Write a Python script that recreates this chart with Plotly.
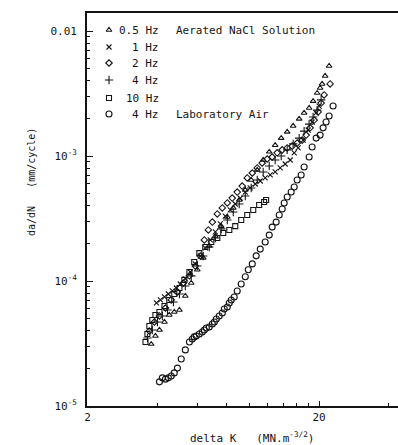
import plotly.graph_objects as go
import math

# ---------------- data (ΔK in MN.m^-3/2, da/dN in mm/cycle) ----------------
hz05_dk = [3.77, 3.93, 4.09, 4.30, 4.51, 4.74, 4.99, 5.29, 5.61, 5.96, 6.32, 6.71, 7.13, 7.56, 8.03,
           8.52, 9.04, 9.60, 10.18, 10.81, 11.47, 12.18, 12.92, 13.72, 14.56, 15.45, 16.40, 17.23,
           18.11, 18.84, 19.61, 20.20, 20.60, 21.23, 22.09]
hz05_da = [3.13e-5, 3.63e-5, 4.06e-5, 4.70e-5, 5.35e-5, 5.65e-5, 5.86e-5, 7.59e-5, 9.64e-5, 1.23e-4,
           1.53e-4, 1.91e-4, 2.29e-4, 2.75e-4, 3.25e-4, 3.84e-4, 4.45e-4, 5.35e-4, 6.43e-4, 7.73e-4,
           9.29e-4, 1.08e-3, 1.22e-3, 1.39e-3, 1.56e-3, 1.74e-3, 1.98e-3, 2.21e-3, 2.42e-3, 2.75e-3,
           3.19e-3, 3.50e-3, 3.77e-3, 4.37e-3, 5.25e-3]

hz1_dk = [3.97, 4.13, 4.30, 4.47, 4.65, 4.84, 5.03, 5.29, 5.56, 5.84, 6.14, 6.45, 6.78, 7.13, 7.49,
          7.87, 8.27, 8.69, 9.13, 9.60, 10.08, 10.60, 11.14, 11.70, 12.30, 12.92, 13.58, 14.27,
          15.00, 15.61, 16.24, 17.06, 17.93, 18.66, 19.42, 20.00]
hz1_da = [6.67e-5, 7.05e-5, 7.45e-5, 7.87e-5, 8.32e-5, 8.79e-5, 9.46e-5, 1.04e-4, 1.18e-4, 1.37e-4,
          1.585e-4, 1.84e-4, 2.13e-4, 2.47e-4, 2.86e-4, 3.31e-4, 3.70e-4, 4.13e-4, 4.61e-4, 5.15e-4,
          5.55e-4, 5.97e-4, 6.31e-4, 6.67e-4, 7.05e-4, 7.45e-4, 8.02e-4, 8.63e-4, 9.29e-4, 1.06e-3,
          1.16e-3, 1.34e-3, 1.61e-3, 1.87e-3, 2.21e-3, 2.51e-3]

hz2_dk = [3.70, 3.89, 4.09, 4.34, 4.60, 4.89, 5.19, 5.51, 5.84, 6.14, 6.39, 6.65, 6.92, 7.27, 7.64,
          8.03, 8.43, 8.86, 9.31, 9.79, 10.29, 10.81, 11.35, 11.93, 12.54, 13.18, 13.86, 14.56,
          15.30, 16.08, 16.90, 17.58, 18.29, 19.03, 19.80, 20.40, 21.02, 22.31]
hz2_da = [3.98e-5, 4.70e-5, 5.25e-5, 6.08e-5, 7.05e-5, 8.17e-5, 9.64e-5, 1.10e-4, 1.32e-4, 1.585e-4,
          2.13e-4, 2.56e-4, 2.96e-4, 3.44e-4, 3.84e-4, 4.21e-4, 4.61e-4, 5.15e-4, 5.75e-4, 6.67e-4,
          7.31e-4, 8.02e-4, 8.79e-4, 9.46e-4, 9.82e-4, 1.06e-3, 1.12e-3, 1.16e-3, 1.20e-3, 1.27e-3,
          1.34e-3, 1.47e-3, 1.68e-3, 1.94e-3, 2.25e-3, 2.65e-3, 3.08e-3, 3.77e-3]

hz4_dk = [3.63, 3.81, 4.01, 4.21, 4.43, 4.70, 4.99, 5.29, 5.61, 5.96, 6.32, 6.71, 7.13, 7.56, 8.03,
          8.52, 9.04, 9.60, 10.18, 10.81, 11.47, 12.18, 12.92, 13.72, 14.56, 15.45, 16.40, 17.23,
          18.11, 18.84, 19.61, 20.40]
hz4_da = [3.50e-5, 4.06e-5, 4.70e-5, 5.25e-5, 5.86e-5, 6.79e-5, 7.87e-5, 9.12e-5, 1.10e-4, 1.32e-4,
          1.585e-4, 1.87e-4, 2.21e-4, 2.61e-4, 3.08e-4, 3.56e-4, 4.13e-4, 4.79e-4, 5.55e-4, 6.43e-4,
          7.45e-4, 8.32e-4, 9.29e-4, 1.0e-3, 1.12e-3, 1.25e-3, 1.39e-3, 1.58e-3, 1.80e-3, 2.05e-3,
          2.33e-3, 2.81e-3]

hz10_dk = [3.56, 3.63, 3.70, 3.81, 3.93, 4.09, 4.30, 4.51, 4.74, 4.99, 5.24, 5.51, 5.78, 6.08, 6.45,
           6.85, 7.27, 7.71, 8.19, 8.69, 9.22, 9.79, 10.39, 11.02, 11.58, 11.81]
hz10_da = [3.25e-5, 3.77e-5, 4.37e-5, 4.88e-5, 5.35e-5, 5.65e-5, 6.31e-5, 7.05e-5, 7.87e-5, 8.79e-5,
           1.02e-4, 1.18e-4, 1.42e-4, 1.67e-4, 1.87e-4, 2.05e-4, 2.21e-4, 2.42e-4, 2.56e-4, 2.75e-4,
           3.08e-4, 3.37e-4, 3.70e-4, 4.06e-4, 4.29e-4, 4.45e-4]

air_dk = [4.09, 4.21, 4.34, 4.47, 4.60, 4.74, 4.89, 5.08, 5.29, 5.51, 5.67, 5.78, 5.90, 6.08, 6.26,
          6.39, 6.52, 6.71, 6.92, 7.06, 7.20, 7.41, 7.64, 7.79, 8.03, 8.19, 8.35, 8.60, 8.86, 9.22,
          9.60, 9.89, 10.29, 10.70, 11.14, 11.70, 12.18, 12.54, 13.05, 13.45, 13.86, 14.13, 14.56,
          15.15, 15.61, 16.08, 16.73, 17.23, 18.11, 18.66, 19.42, 20.20, 20.81, 21.44, 22.09, 22.98]
air_da = [1.56e-5, 1.68e-5, 1.64e-5, 1.68e-5, 1.74e-5, 1.84e-5, 2.01e-5, 2.38e-5, 2.81e-5, 3.25e-5,
          3.44e-5, 3.57e-5, 3.63e-5, 3.77e-5, 3.91e-5, 4.06e-5, 4.21e-5, 4.29e-5, 4.53e-5, 4.70e-5,
          4.97e-5, 5.25e-5, 5.55e-5, 5.97e-5, 6.19e-5, 6.67e-5, 7.05e-5, 7.45e-5, 8.32e-5, 9.46e-5,
          1.08e-4, 1.23e-4, 1.37e-4, 1.59e-4, 1.80e-4, 2.05e-4, 2.33e-4, 2.70e-4, 2.96e-4, 3.37e-4,
          3.77e-4, 4.21e-4, 4.70e-4, 5.15e-4, 5.65e-4, 6.43e-4, 7.05e-4, 8.17e-4, 9.82e-4, 1.18e-3,
          1.39e-3, 1.47e-3, 1.68e-3, 1.87e-3, 2.09e-3, 2.51e-3]

legend_freq = ["0.5 Hz", "1 Hz", "2 Hz", "4 Hz", "10 Hz", "4 Hz"]
legend_env = ["Aerated NaCl Solution", "", "", "", "", "Laboratory Air"]

x_tick_vals = [2, 20]
x_tick_text = ["2", "20"]
x_minor_vals = [4, 6, 8, 10, 12, 14, 16, 18, 40]
y_tick_vals = [1e-5, 1e-4, 1e-3, 1e-2]
y_tick_text = ["10<sup>-5</sup>", "10<sup>-4</sup>", "10<sup>-3</sup>", "0.01"]
y_minor_vals = [m * 10.0 ** e for e in (-5, -4, -3) for m in range(2, 10)]

# ---------------- layout geometry ----------------
W, H = 398, 445
L, R, T, B = 87, 398, 13, 406
FONT = "DejaVu Sans Mono"
INK = "#141414"


def pxx(x):
    return (x - L) / (R - L)


def pxy(y):
    return (B - y) / (B - T)


series = [
    (hz05_dk, hz05_da, "triangle-up-open", 5),
    (hz1_dk, hz1_da, "x-thin-open", 5),
    (hz2_dk, hz2_da, "diamond-open", 5),
    (hz4_dk, hz4_da, "cross-thin-open", 6),
    (hz10_dk, hz10_da, "square-open", 5),
    (air_dk, air_da, "circle-open", 6),
]

fig = go.Figure()
for dk, da, sym, sz in series:
    fig.add_trace(go.Scatter(
        x=dk, y=da, mode="markers", showlegend=False,
        marker=dict(symbol=sym, size=sz, color=INK, line=dict(color=INK, width=1.1)),
    ))

# legend symbols (overlay axes in plot fractions)
row_y = [30, 47, 63, 80, 98, 114]
for i, (dk, da, sym, sz) in enumerate(series):
    fig.add_trace(go.Scatter(
        x=[pxx(109)], y=[pxy(row_y[i])], xaxis="x2", yaxis="y2", mode="markers",
        showlegend=False, hoverinfo="skip",
        marker=dict(symbol=sym, size=sz, color=INK, line=dict(color=INK, width=1.1)),
    ))
    fig.add_annotation(x=pxx(161), y=pxy(row_y[i]), xref="paper", yref="paper",
                       text=legend_freq[i].replace(" ", "\u00a0"), showarrow=False,
                       xanchor="right", yanchor="middle",
                       font=dict(family=FONT, size=11, color=INK))
    if legend_env[i]:
        fig.add_annotation(x=pxx(174), y=pxy(row_y[i]), xref="paper", yref="paper",
                           text=legend_env[i], showarrow=False,
                           xanchor="left", yanchor="middle",
                           font=dict(family=FONT, size=11, color=INK))

# axis titles
fig.add_annotation(x=pxx(252), y=pxy(437), xref="paper", yref="paper",
                   text="delta\u00a0K\u00a0\u00a0\u00a0(MN.m<sup>-3/2</sup>)", showarrow=False,
                   xanchor="center", yanchor="middle",
                   font=dict(family=FONT, size=11, color=INK))
fig.add_annotation(x=pxx(31), y=pxy(182), xref="paper", yref="paper",
                   text="da/dN\u00a0\u00a0\u00a0(mm/cycle)", showarrow=False, textangle=-90,
                   xanchor="center", yanchor="middle",
                   font=dict(family=FONT, size=10, color=INK))

fig.update_layout(
    width=W, height=H,
    margin=dict(l=L, r=W - R, t=T, b=H - B, pad=0),
    paper_bgcolor="white", plot_bgcolor="white",
    font=dict(family=FONT, size=11, color=INK),
    hovermode=False,
    xaxis=dict(
        type="log", range=[math.log10(2) - 0.002, math.log10(2) + (R - L) / 232.0],
        tickvals=x_tick_vals, ticktext=x_tick_text,
        ticks="inside", ticklen=5, tickwidth=1.2, tickcolor=INK,
        minor=dict(tickvals=x_minor_vals, ticks="inside", ticklen=3, tickwidth=1, tickcolor=INK),
        showgrid=False, zeroline=False,
        showline=True, linecolor=INK, linewidth=1.8, mirror=True,
        tickfont=dict(family=FONT, size=11, color=INK),
    ),
    yaxis=dict(
        type="log", range=[-5, -2 + (31 - T) / 125.0],
        tickvals=y_tick_vals, ticktext=y_tick_text,
        ticks="inside", ticklen=6, tickwidth=1.2, tickcolor=INK,
        minor=dict(tickvals=y_minor_vals, ticks="inside", ticklen=3, tickwidth=1, tickcolor=INK),
        showgrid=False, zeroline=False,
        showline=True, linecolor=INK, linewidth=1.8, mirror=False,
        ticklabelstandoff=6,
        tickfont=dict(family=FONT, size=11, color=INK),
    ),
    xaxis2=dict(overlaying="x", range=[0, 1], visible=False),
    yaxis2=dict(overlaying="y", range=[0, 1], visible=False),
)

fig.write_html("out.html", config={"displayModeBar": False},
               post_script="document.body.style.margin='0';document.body.style.overflow='hidden';")
